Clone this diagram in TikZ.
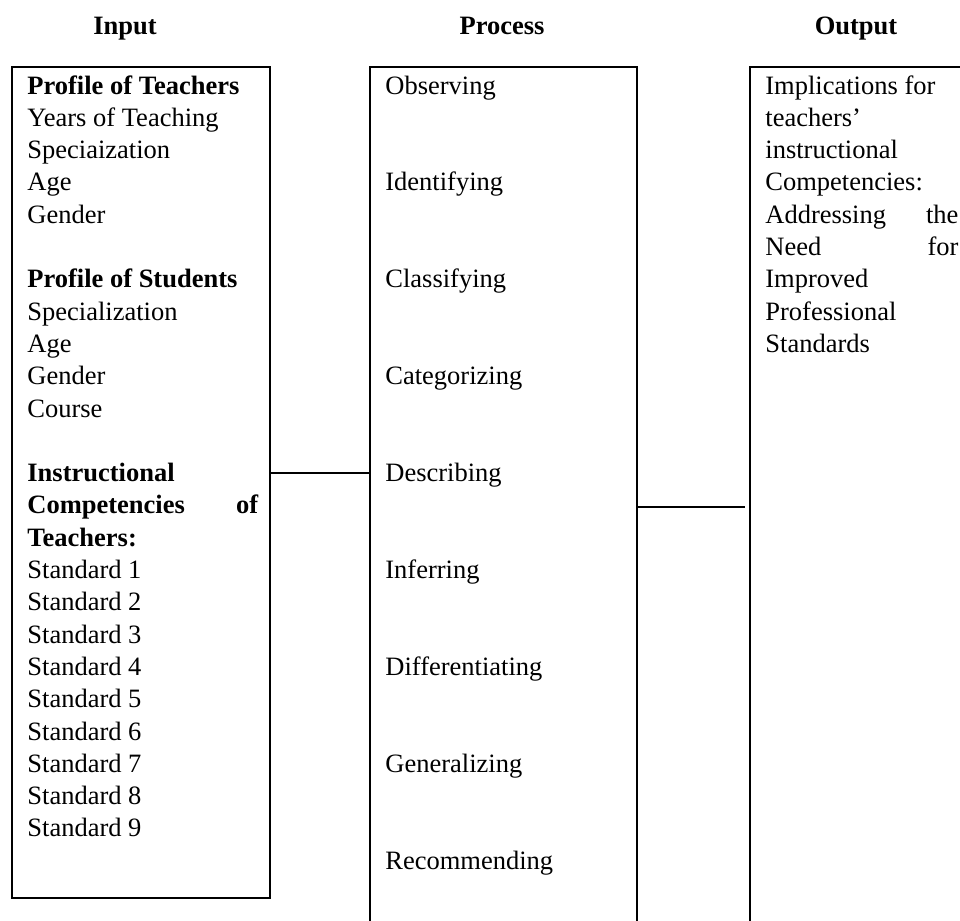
\documentclass[tikz,border=0pt]{standalone}
\usepackage{fontspec}
\setmainfont{Liberation Serif}
\begin{document}
\begin{tikzpicture}[x=0.5pt,y=-0.5pt,
  txt/.style={anchor=base west,inner sep=0pt,font=\fontsize{13.25pt}{16pt}\selectfont},
  head/.style={anchor=base,inner sep=0pt,font=\fontsize{13.25pt}{16pt}\selectfont\bfseries},
  colbox/.style={draw,line width=1pt,inner sep=0pt},
  conn/.style={line width=0.8pt}]
\useasboundingbox (0,0) rectangle (960,921);
% headings
\node[head] (hin) at (125,34) {Input};
\node[head] (hproc) at (502,34) {Process};
\node[head] (hout) at (856,34) {Output};
% boxes
\node[colbox,minimum width=129pt,minimum height=415.5pt] (inbox) at (141,482.5) {};
\node[colbox,minimum width=133.5pt,minimum height=441.5pt] (procbox) at (503.5,508.5) {};
\node[colbox,minimum width=130pt,minimum height=441.5pt] (outbox) at (880,508.5) {};
% input texts
\foreach \i/\t in {0/{\textbf{Profile of Teachers}},1/{Years of Teaching},2/{Speciaization},3/{Age},4/{Gender},
  6/{\textbf{Profile of Students}},7/{Specialization},8/{Age},9/{Gender},10/{Course},
  12/{\textbf{Instructional}},13/{\hbox to 115.5pt{\textbf{Competencies}\hfill\textbf{of}}},14/{\textbf{Teachers:}},
  15/{Standard 1},16/{Standard 2},17/{Standard 3},18/{Standard 4},19/{Standard 5},20/{Standard 6},21/{Standard 7},22/{Standard 8},23/{Standard 9}}
  \node[txt] (in\i) at (27,{94+\i*32.3}) {\t};
% process texts
\foreach \i/\t in {0/Observing,1/Identifying,2/Classifying,3/Categorizing,4/Describing,5/Inferring,6/Differentiating,7/Generalizing,8/Recommending}
  \node[txt] (pr\i) at (385,{94+3*\i*32.3}) {\t};
% output texts
\foreach \i/\t in {0/{Implications for},1/{teachers’},2/{instructional},3/{Competencies:},4/{\hbox to 96.5pt{Addressing\hfill the}},5/{\hbox to 96.5pt{Need\hfill for}},6/{Improved},7/{Professional},8/{Standards}}
  \node[txt] (out\i) at (765,{94+\i*32.3}) {\t};
% connectors
\coordinate (j1) at (0,473);
\coordinate (j2) at (745,507);
\draw[conn] (inbox.east |- j1) -- (procbox.west |- j1);
\draw[conn] (procbox.east |- j2) -- (j2);
\end{tikzpicture}
\end{document}
